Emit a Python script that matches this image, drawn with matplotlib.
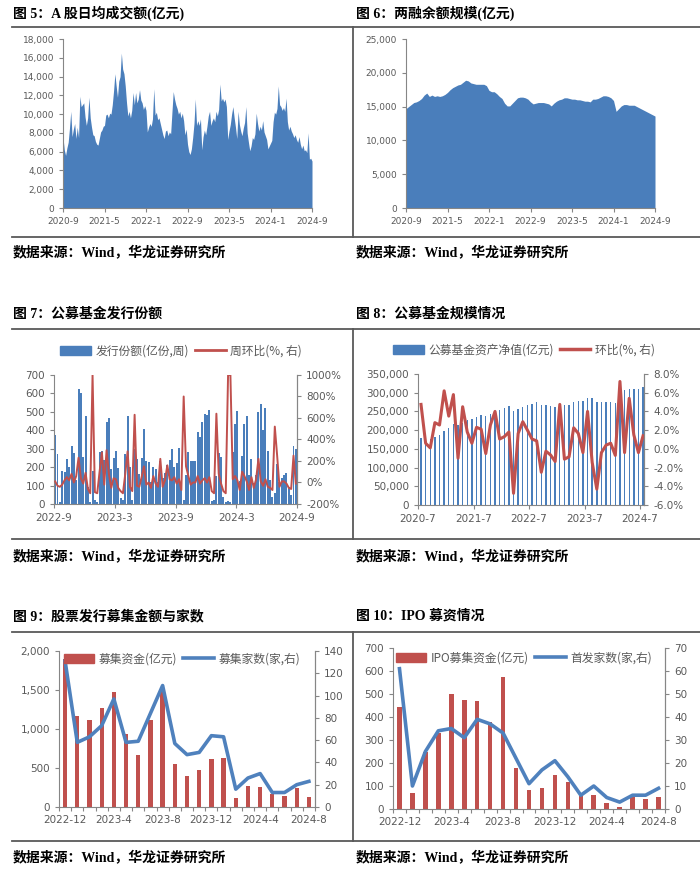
import numpy as np
import matplotlib.pyplot as plt
from matplotlib.lines import Line2D
from matplotlib.patches import Patch
from matplotlib.ticker import FuncFormatter

# ---- data ----
# fig 5: A-share daily turnover, ~weekly readings 2020-9 .. 2024-9 (亿元)
turnover = [
    7500, 6200, 5600, 6400, 7000, 8500, 10300, 7600, 8400, 9000, 7400, 8600,
    7500, 11900, 10800, 11000, 11200, 9700, 8800, 9600, 11800, 9600, 8600, 7800,
    7700, 7100, 6800, 6700, 7400, 8100, 8300, 8700, 8800, 9900, 10000, 9600,
    10100, 10000, 11000, 12500, 14300, 13000, 11800, 13500, 14000, 16500, 14800, 14300,
    13000, 11200, 9800, 10300, 9600, 10400, 12300, 11000, 12300, 11200, 11600, 12600,
    11500, 11200, 10500, 10900, 10400, 8100, 8600, 9000, 8700, 9500, 12700, 9900,
    10200, 9400, 9600, 9000, 8400, 7800, 7400, 8200, 8300, 7700, 8100, 7900,
    10200, 12400, 11600, 11000, 10600, 10000, 10300, 9600, 10100, 9300, 7800, 8400,
    6800, 6000, 5700, 6300, 7500, 9000, 11600, 8800, 9300, 8800, 9500, 6200,
    7600, 8300, 7800, 8700, 9800, 10300, 8800, 9300, 9600, 9200, 10300, 9800,
    10500, 13200, 11400, 11700, 11300, 11600, 10800, 7300, 8200, 8900, 10000, 10800,
    9600, 8600, 7400, 10300, 8900, 8200, 7700, 8500, 9100, 10800, 8000, 7000,
    6100, 6600, 7500, 7300, 7900, 10100, 9000, 8200, 8700, 8300, 9300, 8100,
    7700, 7300, 6300, 6600, 6900, 7200, 9200, 10200, 10000, 10600, 13000, 11000,
    10800, 10400, 10700, 10300, 11700, 9200, 8300, 8700, 8200, 7900, 7500, 7800,
    7300, 7000, 7600, 6800, 6300, 6700, 6100, 6200, 5900, 8000, 5200, 5300,
    5000]
turnover_ticks = ['2020-9', '2021-5', '2022-1', '2022-9', '2023-5', '2024-1', '2024-9']

# fig 6: margin balance, half-monthly readings (亿元)
margin = [
    14700, 15000, 15300, 15600, 15700, 15900, 16200, 16700, 17000, 16500,
    16700, 16500, 16600, 16500, 16600, 16800, 17100, 17500, 17800, 18000,
    18200, 18300, 18600, 18900, 18800, 18500, 18400, 18300, 18300, 18300,
    18300, 18100, 17400, 17200, 17200, 16900, 16500, 16200, 15500, 15100,
    15100, 15500, 15900, 16300, 16400, 16400, 16300, 16100, 15700, 15400,
    15500, 15600, 15600, 15600, 15500, 15400, 15100, 15500, 15800, 16000,
    16100, 16300, 16300, 16200, 16100, 16100, 16000, 16000, 15900, 15800,
    15800, 15700, 16100, 16100, 16200, 16400, 16600, 16600, 16500, 16300,
    15900, 14300, 14700, 15100, 15300, 15300, 15200, 15200, 15200, 15000,
    14800, 14600, 14400, 14200, 14000, 13800, 13600]

# fig 7: weekly fund issuance (亿份) and week-on-week change (%)
issue = [375, 270, 10, 180, 175, 245, 200, 315, 275, 130,
         625, 600, 255, 475, 90, 10, 180, 20, 10, 280,
         290, 240, 445, 465, 190, 250, 290, 195, 30, 20,
         270, 480, 200, 20, 300, 245, 165, 250, 405, 235,
         230, 120, 200, 190, 120, 235, 140, 170, 210, 240,
         300, 200, 220, 305, 90, 20, 160, 280, 235, 235,
         235, 390, 365, 445, 490, 485, 510, 15, 20, 150,
         275, 255, 40, 10, 15, 10, 280, 435, 505, 125,
         260, 435, 480, 160, 245, 115, 155, 500, 540, 400,
         520, 290, 130, 40, 60, 215, 120, 140, 160, 170,
         90, 50, 315, 300]
issue_wow = [10, -30, -40, -20, 20, 50, 20, 80, 0, 60,
             230, 40, -10, 90, -60, -100, 1000, -90, -100, 100,
             280, -20, 300, 80, -50, 40, 30, -50, -80, -100,
             80, 290, -40, -80, 630, -30, -40, 50, 150, -20,
             0, -50, 60, -10, -40, 220, -40, 20, 160, 30,
             20, 50, -10, 30, -70, 800, 150, 60, -20, 0,
             0, 60, -10, 20, 40, 0, 50, -80, -100, 640,
             80, -10, -80, -100, 1000, 1000, 30, 60, 20, -70,
             100, 60, 10, -70, 50, -50, 30, 220, 10, -30,
             30, -40, -50, -70, 520, 250, -40, 10, 10, -10,
             -50, -60, 250, -10]
issue_ticks = ['2022-9', '2023-3', '2023-9', '2024-3', '2024-9']

# fig 8: monthly fund NAV (亿元) and m/m change (%), 2020-7 .. 2024-7
nav = [178000, 172000, 176000, 183000, 188000, 198000, 205000, 216000, 214000, 220000,
       226000, 230000, 234000, 240000, 239000, 244000, 250000, 255000, 259000, 264000,
       250000, 256000, 263000, 268000, 271000, 274000, 266000, 266000, 265000, 261000,
       270000, 268000, 266000, 274000, 277000, 277000, 287000, 287000, 275000, 275000,
       275000, 276000, 273000, 292000, 307000, 311000, 311000, 311000, 314000]
nav_mom = [4.75, 0.6, 0.1, 2.8, 2.55, 6.2, 3.5, 5.8, -1.0, 4.5,
           1.8, 0.6, 2.3, 2.1, -0.5, 2.55, 4.0, 1.05, 1.3, 1.8,
           -4.75, 1.65, 2.9, 2.0, 1.05, 0.85, -2.5, -0.25, -0.65, -1.35,
           4.75, -1.1, -0.85, 2.25, 1.65, -0.4, 4.0, -1.45, -4.3, -0.4,
           0.4, 0.6, -0.7, 7.2, -0.4, 5.4, 1.5, -0.4, 1.4]
nav_ticks = ['2020-7', '2021-7', '2022-7', '2023-7', '2024-7']

# fig 9 / fig 10: monthly 2022-12 .. 2024-8
months = ['2022-12', '2023-1', '2023-2', '2023-3', '2023-4', '2023-5', '2023-6',
          '2023-7', '2023-8', '2023-9', '2023-10', '2023-11', '2023-12', '2024-1',
          '2024-2', '2024-3', '2024-4', '2024-5', '2024-6', '2024-7', '2024-8']
raise_amt = [1900, 1170, 1110, 1270, 1470, 930, 670, 1110, 1500, 550, 400,
             480, 620, 625, 110, 270, 260, 170, 140, 240, 130]
raise_cnt = [131, 58, 63, 73, 97, 58, 59, 84, 109, 57, 47,
             49, 64, 63, 16, 26, 30, 13, 13, 20, 23]
ipo_amt = [445, 70, 250, 330, 500, 475, 468, 380, 575, 180, 84,
           93, 150, 116, 55, 59, 27, 8, 52, 43, 52]
ipo_cnt = [61, 10, 25, 34, 35, 31, 39, 37, 33, 22, 11,
           17, 21, 14, 6, 10, 5, 3, 6, 6, 9]

BLUE = '#4a7ebb'
RED = '#c0504d'
GREY = '#595959'
AXC = '#868686'
TITLE_FONT = ['Liberation Serif', 'Noto Sans CJK SC']
CJK = ['Noto Sans CJK SC', 'DejaVu Sans']

W, H = 700, 873
fig = plt.figure(figsize=(7, 8.73), dpi=100)


def box(l, t, r, b):
    return fig.add_axes([l / W, 1 - b / H, (r - l) / W, (b - t) / H])


def rule(x0, y0, x1, y1):
    fig.add_artist(Line2D([x0 / W, x1 / W], [1 - y0 / H, 1 - y1 / H],
                          color=GREY, lw=1.3))


def label(x, y, s):
    fig.text(x / W, 1 - y / H, s, fontsize=10, fontweight='bold',
             family=TITLE_FONT, va='center', ha='left')


def style(ax, size, right=False):
    ax.spines['top'].set_visible(False)
    ax.spines['right'].set_visible(right)
    for sp in ax.spines.values():
        sp.set_color(AXC)
        sp.set_linewidth(0.8)
    ax.tick_params(colors=AXC, labelcolor=GREY, labelsize=size,
                   length=3, width=0.8)


def legend(handles, cx, cy, size):
    fig.legend(handles=handles, loc='center', bbox_to_anchor=(cx / W, 1 - cy / H),
               ncol=2, frameon=False, prop={'family': CJK, 'size': size},
               labelcolor=GREY, handlelength=2.6, handleheight=0.75,
               columnspacing=0.5, handletextpad=0.4)


comma = FuncFormatter(lambda v, p: f'{v:,.0f}')

# ---- frames, titles, sources ----
rows = [(13, 27, 237, 253), (314, 329, 539, 557), (616, 632, 841, 858)]
titles = [('图 5：A 股日均成交额(亿元)', '图 6：两融余额规模(亿元)'),
          ('图 7：公募基金发行份额', '图 8：公募基金规模情况'),
          ('图 9：股票发行募集金额与家数', '图 10：IPO 募资情况')]
for (ty, top, bot, sy), (tl, tr) in zip(rows, titles):
    label(13, ty, tl)
    label(356, ty, tr)
    rule(12, top, 700, top)
    rule(12, bot, 700, bot)
    rule(353, top, 353, bot)
    label(13, sy, '数据来源：Wind，华龙证券研究所')
    label(356, sy, '数据来源：Wind，华龙证券研究所')

# ---- fig 5 ----
ax = box(63, 39, 312, 208)
x5 = np.arange(len(turnover)) / 4
ax.fill_between(x5, turnover, color=BLUE, lw=0)
ax.set_xlim(0, 48)
ax.set_ylim(0, 18000)
ax.set_yticks(range(0, 18001, 2000))
ax.yaxis.set_major_formatter(comma)
ax.set_xticks(range(0, 49, 8))
ax.set_xticklabels(turnover_ticks)
style(ax, 6.5)

# ---- fig 6 ----
ax = box(406, 39, 655, 208)
x6 = np.arange(len(margin)) / 2
ax.fill_between(x6, margin, color=BLUE, lw=0)
ax.set_xlim(0, 48)
ax.set_ylim(0, 25000)
ax.set_yticks(range(0, 25001, 5000))
ax.yaxis.set_major_formatter(comma)
ax.set_xticks(range(0, 49, 8))
ax.set_xticklabels(turnover_ticks)
style(ax, 6.5)

# ---- fig 7 ----
ax = box(54, 375, 297, 504)
x7 = np.arange(len(issue)) + 0.5
ax.bar(x7, issue, width=0.85, color=BLUE, lw=0)
ax.set_xlim(0, len(issue))
ax.set_ylim(0, 700)
ax.set_yticks(range(0, 701, 100))
ax.set_xticks([0, 26, 52, 78, 104])
ax.set_xticklabels(issue_ticks)
style(ax, 7.5, right=True)
ax2 = ax.twinx()
ax2.plot(x7, issue_wow, color=RED, lw=1.4)
ax2.set_ylim(-200, 1000)
ax2.set_yticks(range(-200, 1001, 200))
ax2.yaxis.set_major_formatter(FuncFormatter(lambda v, p: f'{v:.0f}%'))
style(ax2, 7.5, right=True)
for s in ['left', 'bottom']:
    ax2.spines[s].set_visible(False)
legend([Patch(color=BLUE, label='发行份额(亿份,周)'),
        Line2D([], [], color=RED, lw=2, label='周环比(%, 右)')], 181, 351, 8.5)

# ---- fig 8 ----
ax = box(418, 374, 644, 505)
x8 = np.arange(len(nav)) + 0.65
ax.bar(x8, nav, width=0.3, color=BLUE, lw=0)
ax.set_xlim(0, 48.85)
ax.set_ylim(0, 350000)
ax.set_yticks(range(0, 350001, 50000))
ax.yaxis.set_major_formatter(comma)
ax.set_xticks([0, 12, 24, 36, 48])
ax.set_xticklabels(nav_ticks)
style(ax, 7.5, right=True)
ax2 = ax.twinx()
ax2.plot(x8, nav_mom, color=RED, lw=2.2)
ax2.set_ylim(-6, 8)
ax2.set_yticks(range(-6, 9, 2))
ax2.yaxis.set_major_formatter(FuncFormatter(lambda v, p: f'{v:.1f}%'))
style(ax2, 7.5, right=True)
for s in ['left', 'bottom']:
    ax2.spines[s].set_visible(False)
legend([Patch(color=BLUE, label='公募基金资产净值(亿元)'),
        Line2D([], [], color=RED, lw=2.5, label='环比(%, 右)')], 524, 350, 8.5)


# ---- fig 9 / fig 10 ----
def combo(frame, amt, cnt, lmax, lstep, rmax, rstep, names, cx, cy):
    ax = box(*frame)
    xc = np.arange(len(months))
    ax.bar(xc, amt, width=0.35, color=RED, lw=0)
    ax.set_xlim(-0.5, len(months) - 0.5)
    ax.set_ylim(0, lmax)
    ax.set_yticks(range(0, lmax + 1, lstep))
    ax.yaxis.set_major_formatter(comma)
    ax.set_xticks(xc[::4])
    ax.set_xticklabels(months[::4])
    ax.set_xticks(np.arange(-0.5, len(months), 1), minor=True)
    style(ax, 7.5, right=True)
    ax.tick_params(axis='x', which='major', length=0, pad=6)
    ax.tick_params(axis='x', which='minor', length=3, width=0.8, color=AXC)
    ax2 = ax.twinx()
    ax2.plot(xc, cnt, color='#4f81bd', lw=2.6)
    ax2.set_ylim(0, rmax)
    ax2.set_yticks(range(0, rmax + 1, rstep))
    style(ax2, 7.5, right=True)
    for s in ['left', 'bottom']:
        ax2.spines[s].set_visible(False)
    legend([Patch(color=RED, label=names[0]),
            Line2D([], [], color='#4f81bd', lw=2.6, label=names[1])], cx, cy, 8.5)


combo((59, 651, 315, 807), raise_amt, raise_cnt, 2000, 500, 140, 20,
      ('募集资金(亿元)', '募集家数(家,右)'), 182, 659)
combo((393, 648, 665, 809), ipo_amt, ipo_cnt, 700, 100, 70, 10,
      ('IPO募集资金(亿元)', '首发家数(家,右)'), 524, 658)

fig.savefig('out.png', dpi=100, facecolor='white')
